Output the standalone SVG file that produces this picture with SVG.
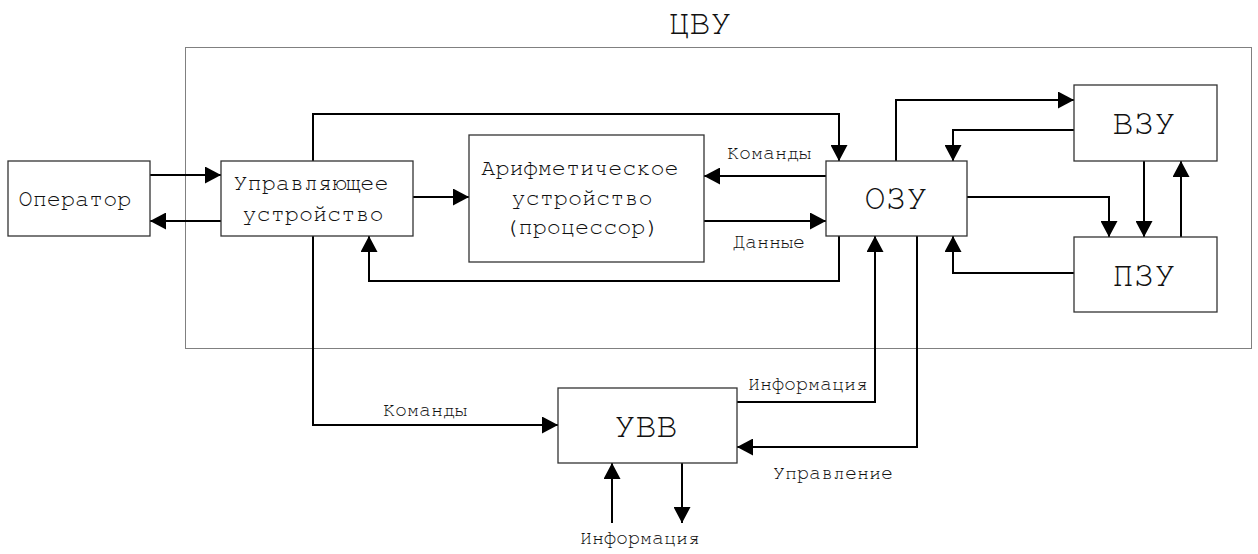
<svg xmlns="http://www.w3.org/2000/svg" width="1258" height="554" viewBox="0 0 1258 554">
<style>
.box{fill:#fff;stroke:#333;stroke-width:1.3}
.frame{fill:none;stroke:#000;stroke-width:1;stroke-dasharray:1 1}
.c{fill:none;stroke:#000;stroke-width:2;marker-end:url(#ah)}
text{font-family:FreeMono,"Liberation Mono",monospace;fill:#111;text-anchor:middle}
.m{font-size:23.5px}
.b{font-size:35px}
.s{font-size:20px}
</style>
<defs>
<marker id="ah" markerUnits="userSpaceOnUse" markerWidth="16" markerHeight="17" refX="16" refY="8.5" orient="auto">
<path d="M0,0 L16,8.5 L0,17 z" fill="#000"/>
</marker>
</defs>
<rect class="frame" x="185.5" y="47.5" width="1066" height="301"/>
<text class="b" x="700" y="34">ЦВУ</text>
<g id="connectors">
<path class="c" d="M150,175 H221"/>
<path class="c" d="M221,221 H150"/>
<path class="c" d="M413,197 H469"/>
<path class="c" d="M826,176 H704"/>
<path class="c" d="M704,221 H826"/>
<path class="c" d="M313,161 V114 H839 V161"/>
<path class="c" d="M839,236 V281 H369 V236"/>
<path class="c" d="M896,161 V100 H1074"/>
<path class="c" d="M1074,130 H953 V161"/>
<path class="c" d="M967,197 H1109 V237"/>
<path class="c" d="M1144,161 V237"/>
<path class="c" d="M1181,237 V161"/>
<path class="c" d="M1074,273 H953 V236"/>
<path class="c" d="M313,236 V425 H558"/>
<path class="c" d="M737,402 H875 V236"/>
<path class="c" d="M917,236 V447 H737"/>
<path class="c" d="M612,523 V463"/>
<path class="c" d="M682,463 V523"/>
<text class="s" x="769" y="159">Команды</text>
<text class="s" x="769" y="248">Данные</text>
<text class="s" x="425" y="416">Команды</text>
<text class="s" x="808" y="390">Информация</text>
<text class="s" x="833" y="479">Управление</text>
<text class="s" x="640" y="544">Информация</text>
</g>
<g id="operator">
<rect class="box" x="8" y="161" width="142" height="75"/>
<text class="m" x="75" y="206">Оператор</text>
</g>
<g id="control">
<rect class="box" x="221" y="161" width="192" height="75"/>
<text class="m" x="311" y="190">Управляющее</text>
<text class="m" x="313" y="221">устройство</text>
</g>
<g id="alu">
<rect class="box" x="469" y="135" width="235" height="127"/>
<text class="m" x="580" y="175">Арифметическое</text>
<text class="m" x="582" y="205">устройство</text>
<text class="m" x="582" y="234">(процессор)</text>
</g>
<g id="ozu">
<rect class="box" x="826" y="161" width="141" height="75"/>
<text class="b" x="896" y="209">ОЗУ</text>
</g>
<g id="vzu">
<rect class="box" x="1074" y="85" width="143" height="76"/>
<text class="b" x="1144" y="134">ВЗУ</text>
</g>
<g id="pzu">
<rect class="box" x="1074" y="237" width="143" height="75"/>
<text class="b" x="1144" y="286">ПЗУ</text>
</g>
<g id="uvv">
<rect class="box" x="558" y="388" width="179" height="75"/>
<text class="b" x="646" y="437">УВВ</text>
</g>
</svg>
